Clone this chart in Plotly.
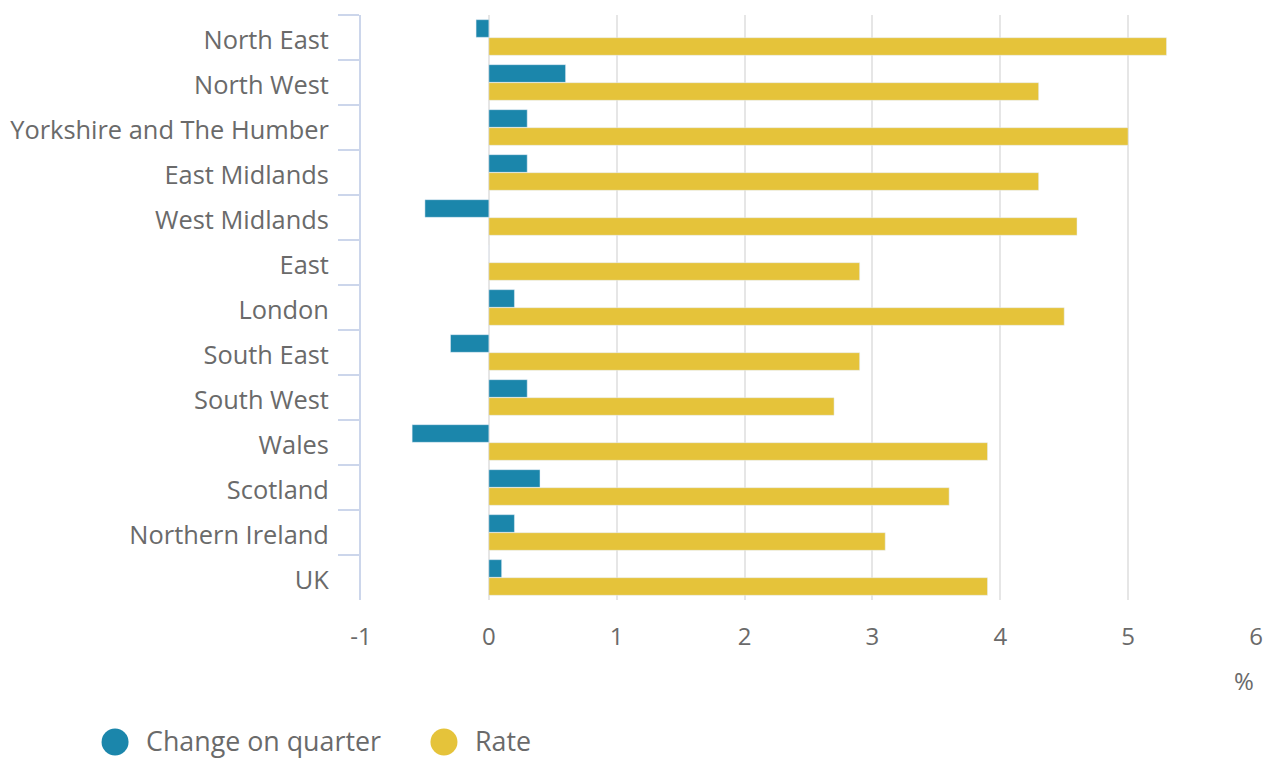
import plotly.graph_objects as go

regions = ["North East", "North West", "Yorkshire and The Humber", "East Midlands",
           "West Midlands", "East", "London", "South East", "South West", "Wales",
           "Scotland", "Northern Ireland", "UK"]
change_on_quarter = [-0.1, 0.6, 0.3, 0.3, -0.5, 0.0, 0.2, -0.3, 0.3, -0.6, 0.4, 0.2, 0.1]
rate = [5.3, 4.3, 5.0, 4.3, 4.6, 2.9, 4.5, 2.9, 2.7, 3.9, 3.6, 3.1, 3.9]
x_ticks = [-1, 0, 1, 2, 3, 4, 5, 6]
x_tick_text = ["-1", "0", "1", "2", "3", "4", "5", "6"]
series_names = ["Change on quarter", "Rate"]

BLUE = "#1b86ab"
YELLOW = "#e5c33a"
TEXT = "#6a6a6a"
FONT = "Open Sans"

fig = go.Figure()
fig.add_trace(go.Bar(y=regions, x=change_on_quarter, orientation="h", marker_color=BLUE,
                     name=series_names[0], showlegend=False))
fig.add_trace(go.Bar(y=regions, x=rate, orientation="h", marker_color=YELLOW,
                     name=series_names[1], showlegend=False))

# Legend drawn manually (large circle markers)
circle_y = -0.2427
text_y = -0.2410
legend_items = [(-0.2748, -0.2425, BLUE, series_names[0]),
                (0.0927, 0.1251, YELLOW, series_names[1])]
shapes = []
annotations = []
for cx, tx, col, name in legend_items:
    shapes.append(dict(type="circle", xref="paper", yref="paper",
                       xsizemode="pixel", ysizemode="pixel",
                       xanchor=cx, yanchor=circle_y, x0=-13.5, x1=13.5, y0=-13.5, y1=13.5,
                       fillcolor=col, line=dict(width=0)))
    annotations.append(dict(text=name, xref="paper", yref="paper", x=tx, y=text_y,
                            xanchor="left", yanchor="middle", showarrow=False,
                            font=dict(size=26.8, color=TEXT, family=FONT)))
annotations.append(dict(text="%", xref="paper", yref="paper", x=1.0, y=-0.1368,
                        xanchor="right", yanchor="middle", showarrow=False,
                        font=dict(size=24, color=TEXT, family=FONT)))

fig.update_layout(
    width=1267, height=758,
    margin=dict(l=361, r=11, t=15, b=158, autoexpand=False),
    paper_bgcolor="white", plot_bgcolor="white",
    barmode="group", bargap=0.2, bargroupgap=0.02,
    showlegend=False,
    font=dict(family=FONT, color=TEXT, size=25),
    xaxis=dict(range=[-1, 6], tickvals=x_ticks, ticktext=x_tick_text,
               showgrid=True, gridcolor="#e6e6e6", gridwidth=1.5,
               zeroline=False, showline=False, automargin=False,
               ticks="outside", ticklen=15, tickcolor="rgba(0,0,0,0)",
               tickfont=dict(size=24, color=TEXT)),
    yaxis=dict(autorange="reversed", showline=True, linecolor="#ccd6eb", linewidth=2,
               ticks="outside", tickson="boundaries", ticklen=21, tickwidth=2,
               tickcolor="#ccd6eb", showgrid=False, ticklabelstandoff=25,
               ticklabelshift=-3,
               automargin=False, tickfont=dict(size=25.4, color=TEXT)),
    shapes=shapes,
    annotations=annotations,
)

fig.write_html("out.html", config={"displayModeBar": False},
               post_script="document.body.style.margin='0';")
